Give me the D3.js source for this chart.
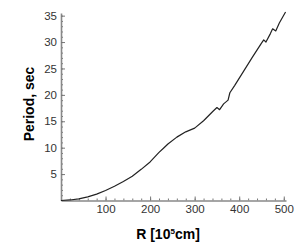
<!DOCTYPE html>
<html>
<head>
<meta charset="utf-8">
<script src="https://cdn.jsdelivr.net/npm/d3@7"></script>
<style>
  body { margin: 0; background: #fff; }
  text { font-family: "Liberation Sans", Arial, sans-serif; }
</style>
</head>
<body>
<svg width="302" height="252"></svg>
<script>
// R in 10^5 cm, period in sec
let radius = [0, 20, 40, 60, 80, 100, 120, 140, 160, 180, 200, 210, 220, 230, 240, 260, 280, 300,
  320, 340, 350, 356, 365, 375, 379, 390, 410, 430, 450, 455, 460, 470, 475, 482, 490, 504];
let period = [0, 0.1, 0.3, 0.7, 1.2, 1.9, 2.7, 3.6, 4.6, 5.9, 7.3, 8.2, 9.1, 9.9, 10.7, 12.0, 13.0, 13.7,
  15.1, 16.8, 17.6, 17.2, 18.3, 19.0, 20.4, 21.8, 24.5, 27.2, 29.8, 30.4, 30.0, 31.6, 32.5, 32.1, 33.6, 35.7];
let xTicks = [100, 200, 300, 400, 500];
let yTicks = [5, 10, 15, 20, 25, 30, 35];

let svg = d3.select("svg");

let xScale = d3.scaleLinear().domain([0, 505]).range([61, 286]);
let yScale = d3.scaleLinear().domain([0, 35.5]).range([200.5, 13]);

// minor ticks
svg.append("g")
  .attr("transform", "translate(0,200.5)")
  .call(d3.axisBottom(xScale).tickValues(d3.range(20, 505, 20)).tickSize(-2).tickFormat(""))
  .call(g => g.select(".domain").remove());
svg.append("g")
  .attr("transform", "translate(61,0)")
  .call(d3.axisLeft(yScale).tickValues(d3.range(1, 36, 1)).tickSize(-2).tickFormat(""))
  .call(g => g.select(".domain").remove());

// major ticks + labels
let xAxis = svg.append("g")
  .attr("transform", "translate(0,200.5)")
  .call(d3.axisBottom(xScale).tickValues(xTicks).tickSizeInner(-4).tickSizeOuter(0).tickPadding(4));
let yAxis = svg.append("g")
  .attr("transform", "translate(61,0)")
  .call(d3.axisLeft(yScale).tickValues(yTicks).tickSizeInner(-4).tickSizeOuter(0).tickPadding(4));

svg.selectAll(".tick line").attr("stroke", "#777").attr("stroke-width", 1);
svg.selectAll(".domain").attr("stroke", "#888").attr("stroke-width", 1.6);
svg.selectAll(".tick text")
  .style("font-size", "11.5px")
  .attr("fill", "#333");

let line = d3.line()
  .x((d, i) => xScale(radius[i]))
  .y((d, i) => yScale(period[i]));

svg.append("path")
  .attr("d", line(period))
  .attr("fill", "none")
  .attr("stroke", "#222")
  .attr("stroke-width", 1.2)
  .attr("stroke-linejoin", "round");

svg.append("text")
  .attr("transform", "translate(34,104) rotate(-90)")
  .attr("text-anchor", "middle")
  .style("font-size", "14px")
  .style("font-weight", "bold")
  .text("Period, sec");

let xl = svg.append("text")
  .attr("x", 168)
  .attr("y", 239)
  .attr("text-anchor", "middle")
  .style("font-size", "14px")
  .style("font-weight", "bold");
xl.append("tspan").text("R [10");
xl.append("tspan").attr("dy", -5).style("font-size", "8px").text("5");
xl.append("tspan").attr("dy", 5).text("cm]");
</script>
</body>
</html>
